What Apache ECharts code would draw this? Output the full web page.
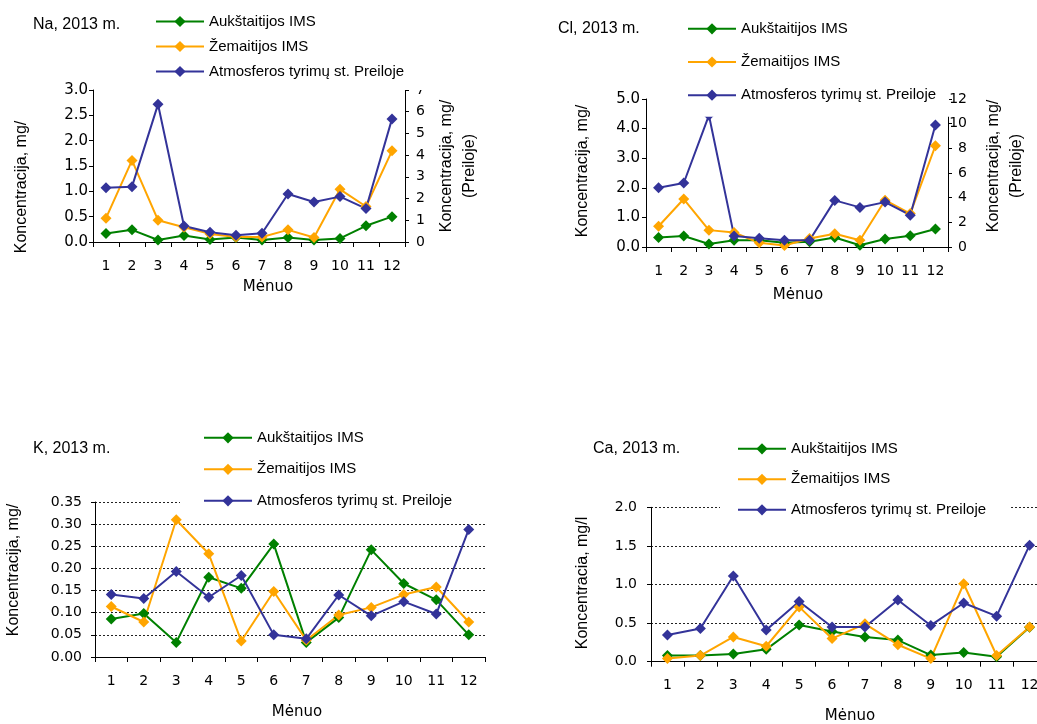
<!DOCTYPE html>
<html><head><meta charset="utf-8">
<script src="https://cdn.jsdelivr.net/npm/echarts@6/dist/echarts.min.js"></script>
<style>html,body{margin:0;padding:0;background:#fff}#c{width:1037px;height:724px}</style>
</head><body><div id="c"></div>
<script>
// ---- data ----
const months = ['1','2','3','4','5','6','7','8','9','10','11','12'];
const seriesNames = ['Aukštaitijos IMS', 'Žemaitijos IMS', 'Atmosferos tyrimų st. Preiloje'];

const naAuk = [0.17, 0.24, 0.04, 0.13, 0.05, 0.09, 0.04, 0.09, 0.04, 0.07, 0.32, 0.50];
const naZem = [0.47, 1.61, 0.43, 0.29, 0.16, 0.10, 0.10, 0.24, 0.09, 1.04, 0.70, 1.80];
const naPre = [2.50, 2.55, 6.34, 0.74, 0.45, 0.31, 0.40, 2.21, 1.84, 2.09, 1.54, 5.67];

const clAuk = [0.32, 0.37, 0.10, 0.23, 0.23, 0.14, 0.18, 0.32, 0.06, 0.27, 0.38, 0.61];
const clZem = [0.70, 1.62, 0.57, 0.49, 0.14, 0.05, 0.29, 0.45, 0.23, 1.58, 1.13, 3.42];
const clPre = [4.81, 5.19, 10.68, 0.90, 0.71, 0.54, 0.54, 3.78, 3.21, 3.64, 2.58, 9.89];

const kAuk = [0.086, 0.098, 0.033, 0.180, 0.155, 0.255, 0.033, 0.089, 0.242, 0.166, 0.129, 0.050];
const kZem = [0.114, 0.079, 0.310, 0.233, 0.036, 0.148, 0.038, 0.095, 0.112, 0.141, 0.158, 0.079];
const kPre = [0.141, 0.132, 0.193, 0.135, 0.184, 0.050, 0.041, 0.140, 0.093, 0.125, 0.097, 0.288];

const caAuk = [0.08, 0.08, 0.10, 0.16, 0.475, 0.39, 0.32, 0.28, 0.086, 0.12, 0.065, 0.445];
const caZem = [0.04, 0.08, 0.32, 0.20, 0.71, 0.30, 0.49, 0.22, 0.04, 1.01, 0.08, 0.45];
const caPre = [0.345, 0.43, 1.11, 0.41, 0.78, 0.45, 0.45, 0.80, 0.47, 0.76, 0.59, 1.51];

// axis ranges [min, max, interval, decimals]
const naLeftAxis = [0, 3, 0.5, 1];
const naRightAxis = [0, 7, 1, 0];
const clLeftAxis = [0, 5, 1, 1];
const clRightAxis = [0, 12, 2, 0];
const kAxis = [0, 0.35, 0.05, 2];
const caAxis = [0, 2, 0.5, 1];

const titles = ['Na, 2013 m.', 'Cl, 2013 m.', 'K, 2013 m.', 'Ca, 2013 m.'];
const yNameMain = 'Koncentracija, mg/';
const yNameCa = 'Koncentracia, mg/l';
const yNameRight = 'Koncentracija, mg/\n(Preiloje)';
const xName = 'Mėnuo';

// ---- styling ----
const AR = '"Liberation Sans", Arial, sans-serif';
const DV = '"DejaVu Sans", sans-serif';
const colors = ['#008000', '#FFA500', '#333399'];

const chart = echarts.init(document.getElementById('c'));

const grids = [
  {left: 93, top: 90, width: 312, height: 152},
  {left: 646, top: 99, width: 302, height: 148},
  {left: 95, top: 502, width: 390, height: 155},
  {left: 651, top: 507.3, width: 395, height: 154.4}
].map(g => Object.assign({containLabel: false, outerBoundsMode: 'none'}, g));

function xAx(gi) {
  return {
    type: 'category', gridIndex: gi, data: months, boundaryGap: true,
    axisLine: {show: true, lineStyle: {color: '#000', width: 1}},
    axisTick: {show: true, interval: 0, length: 5, inside: false, lineStyle: {color: '#000'}},
    axisLabel: {interval: 0, margin: 17, color: '#000', fontFamily: DV, fontSize: 14},
    splitLine: {show: false}
  };
}
function yAx(gi, spec, pos, opts) {
  opts = opts || {};
  const dec = spec[3];
  return {
    type: 'value', gridIndex: gi, position: pos,
    min: spec[0], max: spec[1], interval: spec[2],
    axisLine: {show: true, lineStyle: {color: '#000', width: 1}},
    axisTick: {show: true, length: 4, inside: false, lineStyle: {color: '#000'}},
    axisLabel: {
      color: '#000', fontFamily: DV, fontSize: opts.fs || 14, margin: opts.margin,
      align: opts.align, formatter: v => v.toFixed(dec)
    },
    splitLine: opts.dashed ? {show: true, lineStyle: {color: '#222', type: [2, 2], width: 1}} : {show: false}
  };
}

const xAxes = [xAx(0), xAx(1), xAx(2), xAx(3)];
const yAxes = [
  yAx(0, naLeftAxis, 'left', {margin: 5, fs: 15}),
  yAx(0, naRightAxis, 'right', {margin: 20, align: 'right'}),
  yAx(1, clLeftAxis, 'left', {margin: 6, fs: 15}),
  yAx(1, clRightAxis, 'right', {margin: 19, align: 'right'}),
  yAx(2, kAxis, 'left', {margin: 13, dashed: true}),
  yAx(3, caAxis, 'left', {margin: 14, dashed: true})
];

function line(name, data, ci, xi, yi) {
  return {
    type: 'line', name: name, data: data, xAxisIndex: xi, yAxisIndex: yi,
    symbol: 'diamond', symbolSize: 11, showSymbol: true, showAllSymbol: true,
    lineStyle: {color: colors[ci], width: 2},
    itemStyle: {color: colors[ci]},
    emphasis: {disabled: true}
  };
}
const series = [
  line(seriesNames[0], naAuk, 0, 0, 0), line(seriesNames[1], naZem, 1, 0, 0), line(seriesNames[2], naPre, 2, 0, 1),
  line(seriesNames[0], clAuk, 0, 1, 2), line(seriesNames[1], clZem, 1, 1, 2), line(seriesNames[2], clPre, 2, 1, 3),
  line(seriesNames[0], kAuk, 0, 2, 4), line(seriesNames[1], kZem, 1, 2, 4), line(seriesNames[2], kPre, 2, 2, 4),
  line(seriesNames[0], caAuk, 0, 3, 5), line(seriesNames[1], caZem, 1, 3, 5), line(seriesNames[2], caPre, 2, 3, 5)
];

function leg(left, top, gap, padding) {
  return {
    orient: 'vertical', left: left, top: top, itemGap: gap, padding: padding,
    itemWidth: 48, itemHeight: 14, backgroundColor: '#fff', selectedMode: false,
    data: seriesNames,
    textStyle: {color: '#000', fontFamily: AR, fontSize: 15, lineHeight: 14}
  };
}
const legends = [
  leg(150, 10, 10, [4, 21, 11, 5]),
  leg(682, 17.3, 18.2, [4, 13, 14, 5]),
  leg(180, 426.3, 16.5, [4, 33, 6, 23]),
  leg(720, 437.3, 15.5, [4, 25, 6, 17])
];

function txt(x, y, text, font, rot, align, lh) {
  const style = {text: text, font: font, fill: '#000', align: align || 'center', verticalAlign: 'middle'};
  if (lh) style.lineHeight = lh;
  return {type: 'text', x: x, y: y, rotation: rot || 0, z: 10, style: style};
}
const f16 = '16px ' + AR;
const f15dv = '15px ' + DV;
const graphics = [
  txt(33, 25, titles[0], f16, 0, 'left'),
  txt(558, 29, titles[1], f16, 0, 'left'),
  txt(33, 449, titles[2], f16, 0, 'left'),
  txt(593, 449, titles[3], f16, 0, 'left'),
  txt(22, 187, yNameMain, f16, Math.PI / 2),
  txt(583, 171, yNameMain, f16, Math.PI / 2),
  txt(14, 570, yNameMain, f16, Math.PI / 2),
  txt(583, 583, yNameCa, f16, Math.PI / 2),
  txt(458, 166, yNameRight, f16, Math.PI / 2, 'center', 23),
  txt(1005, 166, yNameRight, f16, Math.PI / 2, 'center', 23),
  txt(268, 287, xName, f15dv),
  txt(798, 295, xName, f15dv),
  txt(297, 712, xName, f15dv),
  txt(850, 716, xName, f15dv)
];

chart.setOption({
  animation: false,
  backgroundColor: '#fff',
  grid: grids,
  xAxis: xAxes,
  yAxis: yAxes,
  legend: legends,
  series: series,
  graphic: graphics
});
</script></body></html>
